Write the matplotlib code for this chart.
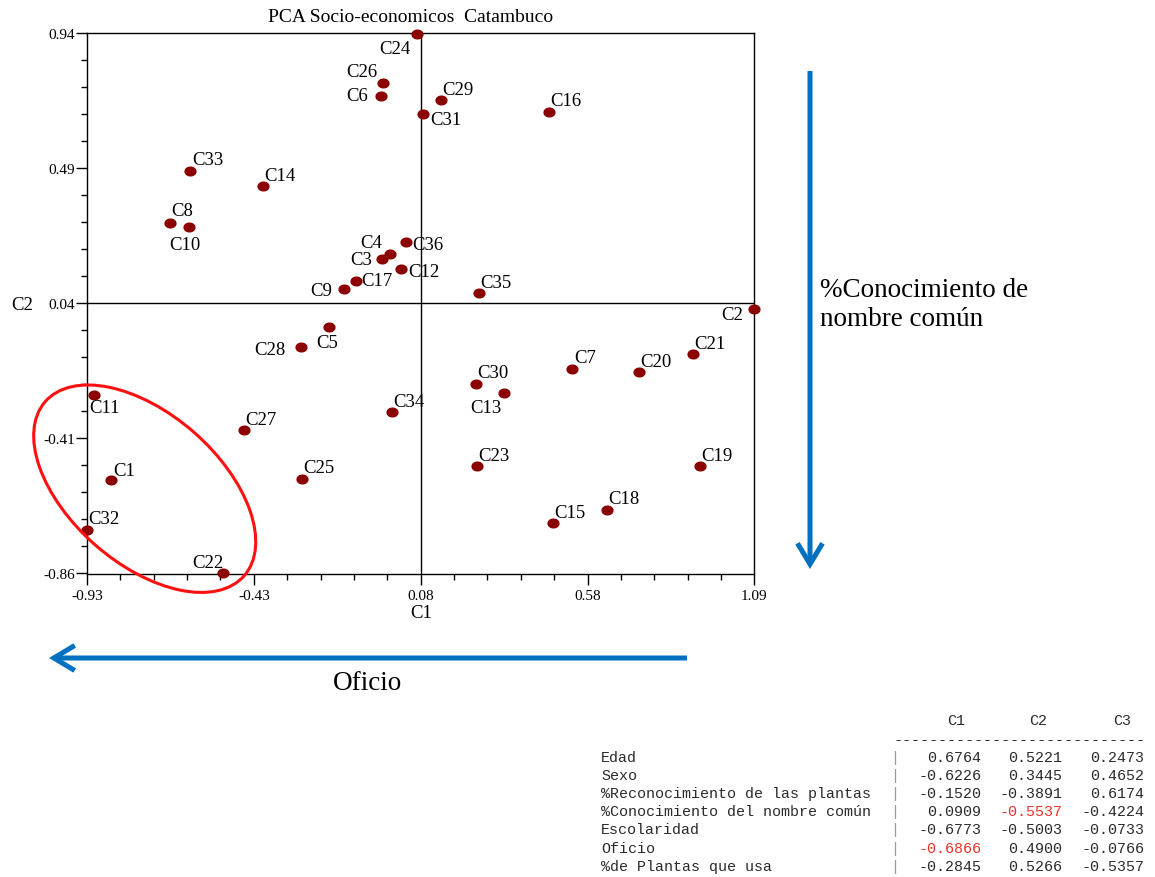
import numpy as np
import matplotlib
matplotlib.use('Agg')
import matplotlib.pyplot as plt
from matplotlib.patches import Ellipse, FancyArrowPatch
from matplotlib.path import Path

# PCA scores (C1, C2) for each informant
labels = ['C%d' % i for i in range(1, 37)]
c1_scores = [-0.856, 1.090, -0.036, -0.012, -0.197, -0.040, 0.538, -0.678, -0.151, -0.621,
             -0.910, 0.021, 0.331, -0.398, 0.481, 0.468, -0.116, 0.644, 0.926, 0.741,
             0.903, -0.519, 0.251, 0.068, -0.279, -0.035, -0.456, -0.283, 0.141, 0.246,
             0.088, -0.929, -0.617, -0.008, 0.257, 0.034]
c2_scores = [-0.549, 0.022, 0.188, 0.206, -0.038, 0.730, -0.177, 0.308, 0.087, 0.294,
             -0.264, 0.156, -0.260, 0.430, -0.693, 0.679, 0.115, -0.647, -0.502, -0.189,
             -0.129, -0.859, -0.502, 0.938, -0.545, 0.776, -0.383, -0.106, 0.717, -0.227,
             0.672, -0.714, 0.482, -0.323, 0.073, 0.243]

x_ticklabels = ['-0.93', '-0.43', '0.08', '0.58', '1.09']
y_ticklabels = ['-0.86', '-0.41', '0.04', '0.49', '0.94']

# loadings table
variables = ['Edad', 'Sexo', '%Reconocimiento de las plantas', '%Conocimiento del nombre común',
             'Escolaridad', 'Oficio', '%de Plantas que usa']
load_c1 = [0.6764, -0.6226, -0.1520, 0.0909, -0.6773, -0.6866, -0.2845]
load_c2 = [0.5221, 0.3445, -0.3891, -0.5537, -0.5003, 0.4900, 0.5266]
load_c3 = [0.2473, 0.4652, 0.6174, -0.4224, -0.0733, -0.0766, -0.5357]
highlight = [(3, 1), (5, 0)]  # (row, column) shown in red

# label offsets in pixels (x right, y up)
label_offsets = {
    'C2': (-22, -6), 'C3': (-21, -1), 'C4': (-19, 11), 'C5': (-2, -16), 'C6': (-24, 1),
    'C7': (13, 11), 'C8': (12, 12), 'C9': (-23, -1), 'C10': (-4, -17), 'C11': (11, -13),
    'C12': (23, -3), 'C13': (-18, -14), 'C17': (21, 0), 'C22': (-15, 11), 'C24': (-22, -15),
    'C26': (-21, 11), 'C28': (-31, -2), 'C31': (23, -6), 'C36': (22, -2), 'C1': (13, 10),
}

W, H = 1155, 878
SERIF = 'Liberation Serif'
MONO = 'Liberation Mono'


def px(x, y):
    return (x / W, 1 - y / H)


def main():
    fig = plt.figure(figsize=(W / 100, H / 100), dpi=100)
    fig.patch.set_facecolor('white')

    ax = fig.add_axes([87 / W, (H - 574.5) / H, (754.3 - 86.9) / W, (574.5 - 34.3) / H])
    xmin, xmax = -0.93, 1.09
    ymin, ymax = -0.86, 0.94
    ax.set_xlim(xmin, xmax)
    ax.set_ylim(ymin, ymax)

    xt = np.linspace(xmin, xmax, 21)
    yt = np.linspace(ymin, ymax, 21)
    ax.set_xticks(xt[::5])
    ax.set_xticklabels(x_ticklabels, family=SERIF, fontsize=11)
    ax.set_xticks(xt, minor=True)
    ax.set_yticks(yt[::5])
    ax.set_yticklabels(y_ticklabels, family=SERIF, fontsize=11)
    ax.set_yticks(yt, minor=True)
    ax.tick_params(which='major', length=8, width=1, direction='out', pad=3)
    ax.tick_params(axis='y', which='major', pad=0.5)
    ax.tick_params(which='minor', length=4, width=1, direction='out')
    for s in ax.spines.values():
        s.set_linewidth(1)

    # centre cross lines
    ax.axvline((xmin + xmax) / 2, color='black', lw=1)
    ax.axhline((ymin + ymax) / 2, color='black', lw=1)

    # slightly wide dot marker
    t = np.linspace(0, 2 * np.pi, 40)
    dot = Path(np.column_stack([1.25 * np.cos(t), np.sin(t)]))
    ax.plot(c1_scores, c2_scores, linestyle='none', marker=dot, markersize=7.8,
            color='#8B0000', clip_on=False, zorder=3)

    for lab, x, y in zip(labels, c1_scores, c2_scores):
        dx, dy = label_offsets.get(lab, (17, 11))
        ax.annotate(lab, (x, y), xytext=(dx, dy), textcoords='offset pixels',
                    ha='center', va='center', family=SERIF, fontsize=13.5,
                    annotation_clip=False)

    fig.text(*px(411, 17), 'PCA Socio-economicos  Catambuco', family=SERIF, fontsize=14,
             ha='center', va='center')
    fig.text(*px(421, 613), 'C1', family=SERIF, fontsize=13.5, ha='center', va='center')
    fig.text(*px(22, 305), 'C2', family=SERIF, fontsize=13.5, ha='center', va='center')

    # red ellipse around the Oficio group
    ell = Ellipse((144.7 / 100, (H - 489.7) / 100), 2.644, 1.498, angle=-41.2,
                  transform=fig.dpi_scale_trans, fill=False, edgecolor='#FF1010', lw=2.2)
    fig.add_artist(ell)

    # blue arrows
    style = '->,head_length=0.75,head_width=0.45'
    for a, b in [((810, 72), (810, 570)), ((687, 659), (49, 659))]:
        arr = FancyArrowPatch(px(*a), px(*b), transform=fig.transFigure, arrowstyle=style,
                              mutation_scale=20, lw=3.6, color='#0070C0',
                              shrinkA=0, shrinkB=0, capstyle='butt', joinstyle='miter')
        fig.add_artist(arr)

    fig.text(*px(820, 305), '%Conocimiento de\nnombre común', family=SERIF, fontsize=19.5,
             ha='left', va='center', linespacing=1.2)
    fig.text(*px(367, 684), 'Oficio', family=SERIF, fontsize=19.5, ha='center', va='center')

    # loadings table
    cw = 9.05
    x0 = 601
    tfs = 10.8
    tcol = '#2b2b2b'
    for name, xc in zip(['C1', 'C2', 'C3'], [955.8, 1037.7, 1122.4]):
        fig.text(*px(xc, 721.5), name, family=MONO, fontsize=tfs, color=tcol,
                 ha='center', va='center')
    fig.text(*px(893, 740), '-' * 28, family=MONO, fontsize=tfs, color=tcol,
             ha='left', va='center')
    cols = [load_c1, load_c2, load_c3]
    for i, name in enumerate(variables):
        y = 757.7 + i * 18.17
        fig.text(*px(x0, y), name, family=MONO, fontsize=tfs, color=tcol, ha='left', va='center')
        fig.text(*px(x0 + 32.5 * cw, y), '|', family=MONO, fontsize=tfs, color='#9a9a9a',
                 ha='center', va='center')
        for j, vals in enumerate(cols):
            color = '#E8302A' if (i, j) in highlight else tcol
            fig.text(*px(x0 + (42 + 9 * j) * cw, y), f'{vals[i]:.4f}', family=MONO,
                     fontsize=tfs, color=color, ha='right', va='center')

    fig.savefig('out.png', dpi=100, facecolor='white')


if __name__ == '__main__':
    main()
